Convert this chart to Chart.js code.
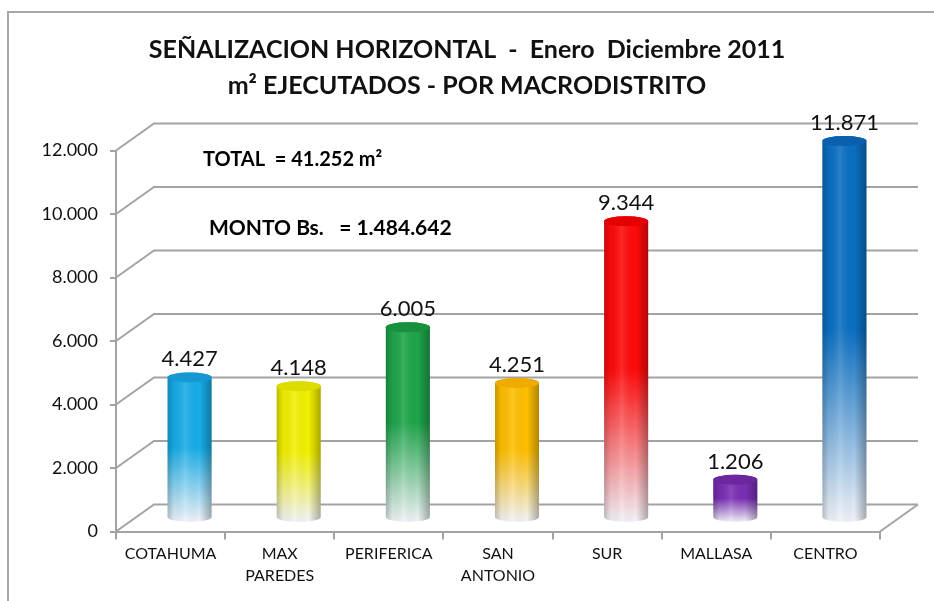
<!DOCTYPE html>
<html>
<head>
<meta charset="utf-8">
<script src="https://cdn.jsdelivr.net/npm/chart.js@4.4.0/dist/chart.umd.min.js"></script>
<style>
  html, body { margin: 0; padding: 0; background: #fff; }
  #wrap { width: 934px; height: 601px; }
</style>
</head>
<body>
<div id="wrap"><canvas id="chart" width="934" height="601"></canvas></div>
<script>
// ---- data ----
const categories = ['COTAHUMA', ['MAX', 'PAREDES'], 'PERIFERICA', ['SAN', 'ANTONIO'], 'SUR', 'MALLASA', 'CENTRO'];
const values = [4427, 4148, 6005, 4251, 9344, 1206, 11871];
const valueLabels = ['4.427', '4.148', '6.005', '4.251', '9.344', '1.206', '11.871'];
const yTickLabels = ['0', '2.000', '4.000', '6.000', '8.000', '10.000', '12.000'];
const barColors = ['#17ade8', '#f2f000', '#1ea54a', '#ffbf00', '#ff0a0a', '#7a2eb4', '#0a6fc2'];
const capColors = ['#1598d4', '#dcdc00', '#18913e', '#f0ab00', '#e40000', '#6a279e', '#0a60ac'];
const titleLines = ['SEÑALIZACION HORIZONTAL  -  Enero  Diciembre 2011', 'm² EJECUTADOS - POR MACRODISTRITO'];
const notes = ['TOTAL  = 41.252 m²', 'MONTO Bs.   = 1.484.642'];

// ---- 3d look ----
const DX = 38, DY = -27;       // depth of the back wall
const GRID = '#a3a3a3';
const FONT = 'Lato, "Open Sans", sans-serif';

function drawCylinder(ctx, cx, top, bot, w, color, cap) {
  const rx = w / 2, ry = 5;
  ctx.save();
  ctx.beginPath();
  ctx.moveTo(cx - rx, top);
  ctx.lineTo(cx - rx, bot);
  ctx.ellipse(cx, bot, rx, ry, 0, Math.PI, 0, true);
  ctx.lineTo(cx + rx, top);
  ctx.ellipse(cx, top, rx, ry, 0, 0, Math.PI, true);
  ctx.closePath();
  const gv = ctx.createLinearGradient(0, top - ry, 0, bot + ry);
  gv.addColorStop(0, color);
  gv.addColorStop(0.5, color);
  gv.addColorStop(1, '#f2f4fa');
  ctx.fillStyle = gv;
  ctx.fill();
  const gh = ctx.createLinearGradient(cx - rx, 0, cx + rx, 0);
  gh.addColorStop(0, 'rgba(0,0,0,0.22)');
  gh.addColorStop(0.15, 'rgba(0,0,0,0.04)');
  gh.addColorStop(0.4, 'rgba(255,255,255,0.12)');
  gh.addColorStop(0.72, 'rgba(0,0,0,0)');
  gh.addColorStop(1, 'rgba(0,0,0,0.3)');
  ctx.fillStyle = gh;
  ctx.fill();
  // top cap
  ctx.beginPath();
  ctx.ellipse(cx, top, rx, ry, 0, 0, Math.PI * 2);
  ctx.fillStyle = cap;
  ctx.fill();
  ctx.restore();
}

const cyl3d = {
  id: 'cyl3d',
  beforeDraw(chart) {
    const ctx = chart.ctx;
    ctx.save();
    ctx.strokeStyle = '#a8a8a8';
    ctx.lineWidth = 2;
    ctx.beginPath();
    ctx.moveTo(934, 12); ctx.lineTo(8, 12); ctx.lineTo(8, 601);
    ctx.stroke();
    ctx.restore();
  },
  beforeDatasetsDraw(chart) {
    const ctx = chart.ctx, a = chart.chartArea, ys = chart.scales.y;
    ctx.save();
    ctx.strokeStyle = GRID;
    ctx.lineWidth = 2;
    ys.ticks.forEach(t => {
      const py = ys.getPixelForValue(t.value);
      ctx.beginPath();
      ctx.moveTo(a.left, py);
      ctx.lineTo(a.left + DX, py + DY);
      ctx.lineTo(a.right + DX, py + DY);
      ctx.stroke();
    });
    const p0 = ys.getPixelForValue(0);
    ctx.beginPath();
    ctx.moveTo(a.right, p0);
    ctx.lineTo(a.right + DX, p0 + DY);
    ctx.stroke();
    ctx.restore();
  },
  afterDatasetsDraw(chart) {
    const ctx = chart.ctx;
    const meta = chart.getDatasetMeta(0);
    meta.data.forEach((el, i) => {
      const cx = el.x + DX / 2;
      const top = el.y + DY / 2;
      const bot = el.base + DY / 2;
      drawCylinder(ctx, cx, top, bot, el.width, barColors[i], capColors[i]);
      ctx.save();
      ctx.fillStyle = '#111';
      ctx.font = '22px ' + FONT;
      ctx.textAlign = 'center';
      ctx.textBaseline = 'alphabetic';
      ctx.fillText(valueLabels[i], cx, top - 11);
      ctx.restore();
    });
    ctx.save();
    ctx.fillStyle = '#000';
    ctx.textAlign = 'left';
    ctx.textBaseline = 'middle';
    ctx.font = 'bold 20px ' + FONT;
    ctx.fillText(notes[0], 203, 160);
    ctx.font = 'bold 21px ' + FONT;
    ctx.fillText(notes[1], 209, 228);
    ctx.restore();
  }
};

new Chart(document.getElementById('chart'), {
  type: 'bar',
  data: {
    labels: categories,
    datasets: [{
      data: values,
      backgroundColor: 'rgba(0,0,0,0)',
      borderWidth: 0,
      barPercentage: 44 / 109,
      categoryPercentage: 1
    }]
  },
  options: {
    responsive: false,
    animation: false,
    devicePixelRatio: 1,
    layout: { padding: 0 },
    plugins: {
      legend: { display: false },
      tooltip: { enabled: false },
      title: {
        display: true,
        text: titleLines,
        color: '#111',
        font: { family: FONT, size: 25, weight: 'bold', lineHeight: 1.45 },
        padding: { top: 32, bottom: 46 }
      }
    },
    scales: {
      x: {
        afterFit: s => { s.height = 69.5; },
        grid: { display: true, drawOnChartArea: false, offset: true, color: GRID, lineWidth: 2, tickLength: 8 },
        border: { display: true, color: GRID, width: 2 },
        ticks: { color: '#111', padding: 3, font: { family: FONT, size: 16, lineHeight: 1.4 }, maxRotation: 0, autoSkip: false }
      },
      y: {
        min: 0,
        max: 12000,
        afterFit: s => { s.width = 116; },
        grid: { display: true, drawOnChartArea: false, color: GRID, lineWidth: 2, tickLength: 6 },
        border: { display: true, color: GRID, width: 2 },
        ticks: {
          stepSize: 2000,
          color: '#111',
          padding: 12,
          font: { family: FONT, size: 18 },
          callback: (v, i) => yTickLabels[i]
        }
      },
      // empty right-hand box that leaves room for the back wall
      side: {
        type: 'linear',
        position: 'right',
        afterFit: s => { s.width = 54; },
        grid: { display: false },
        border: { display: false },
        ticks: { display: false }
      }
    }
  },
  plugins: [cyl3d]
});
</script>
</body>
</html>
